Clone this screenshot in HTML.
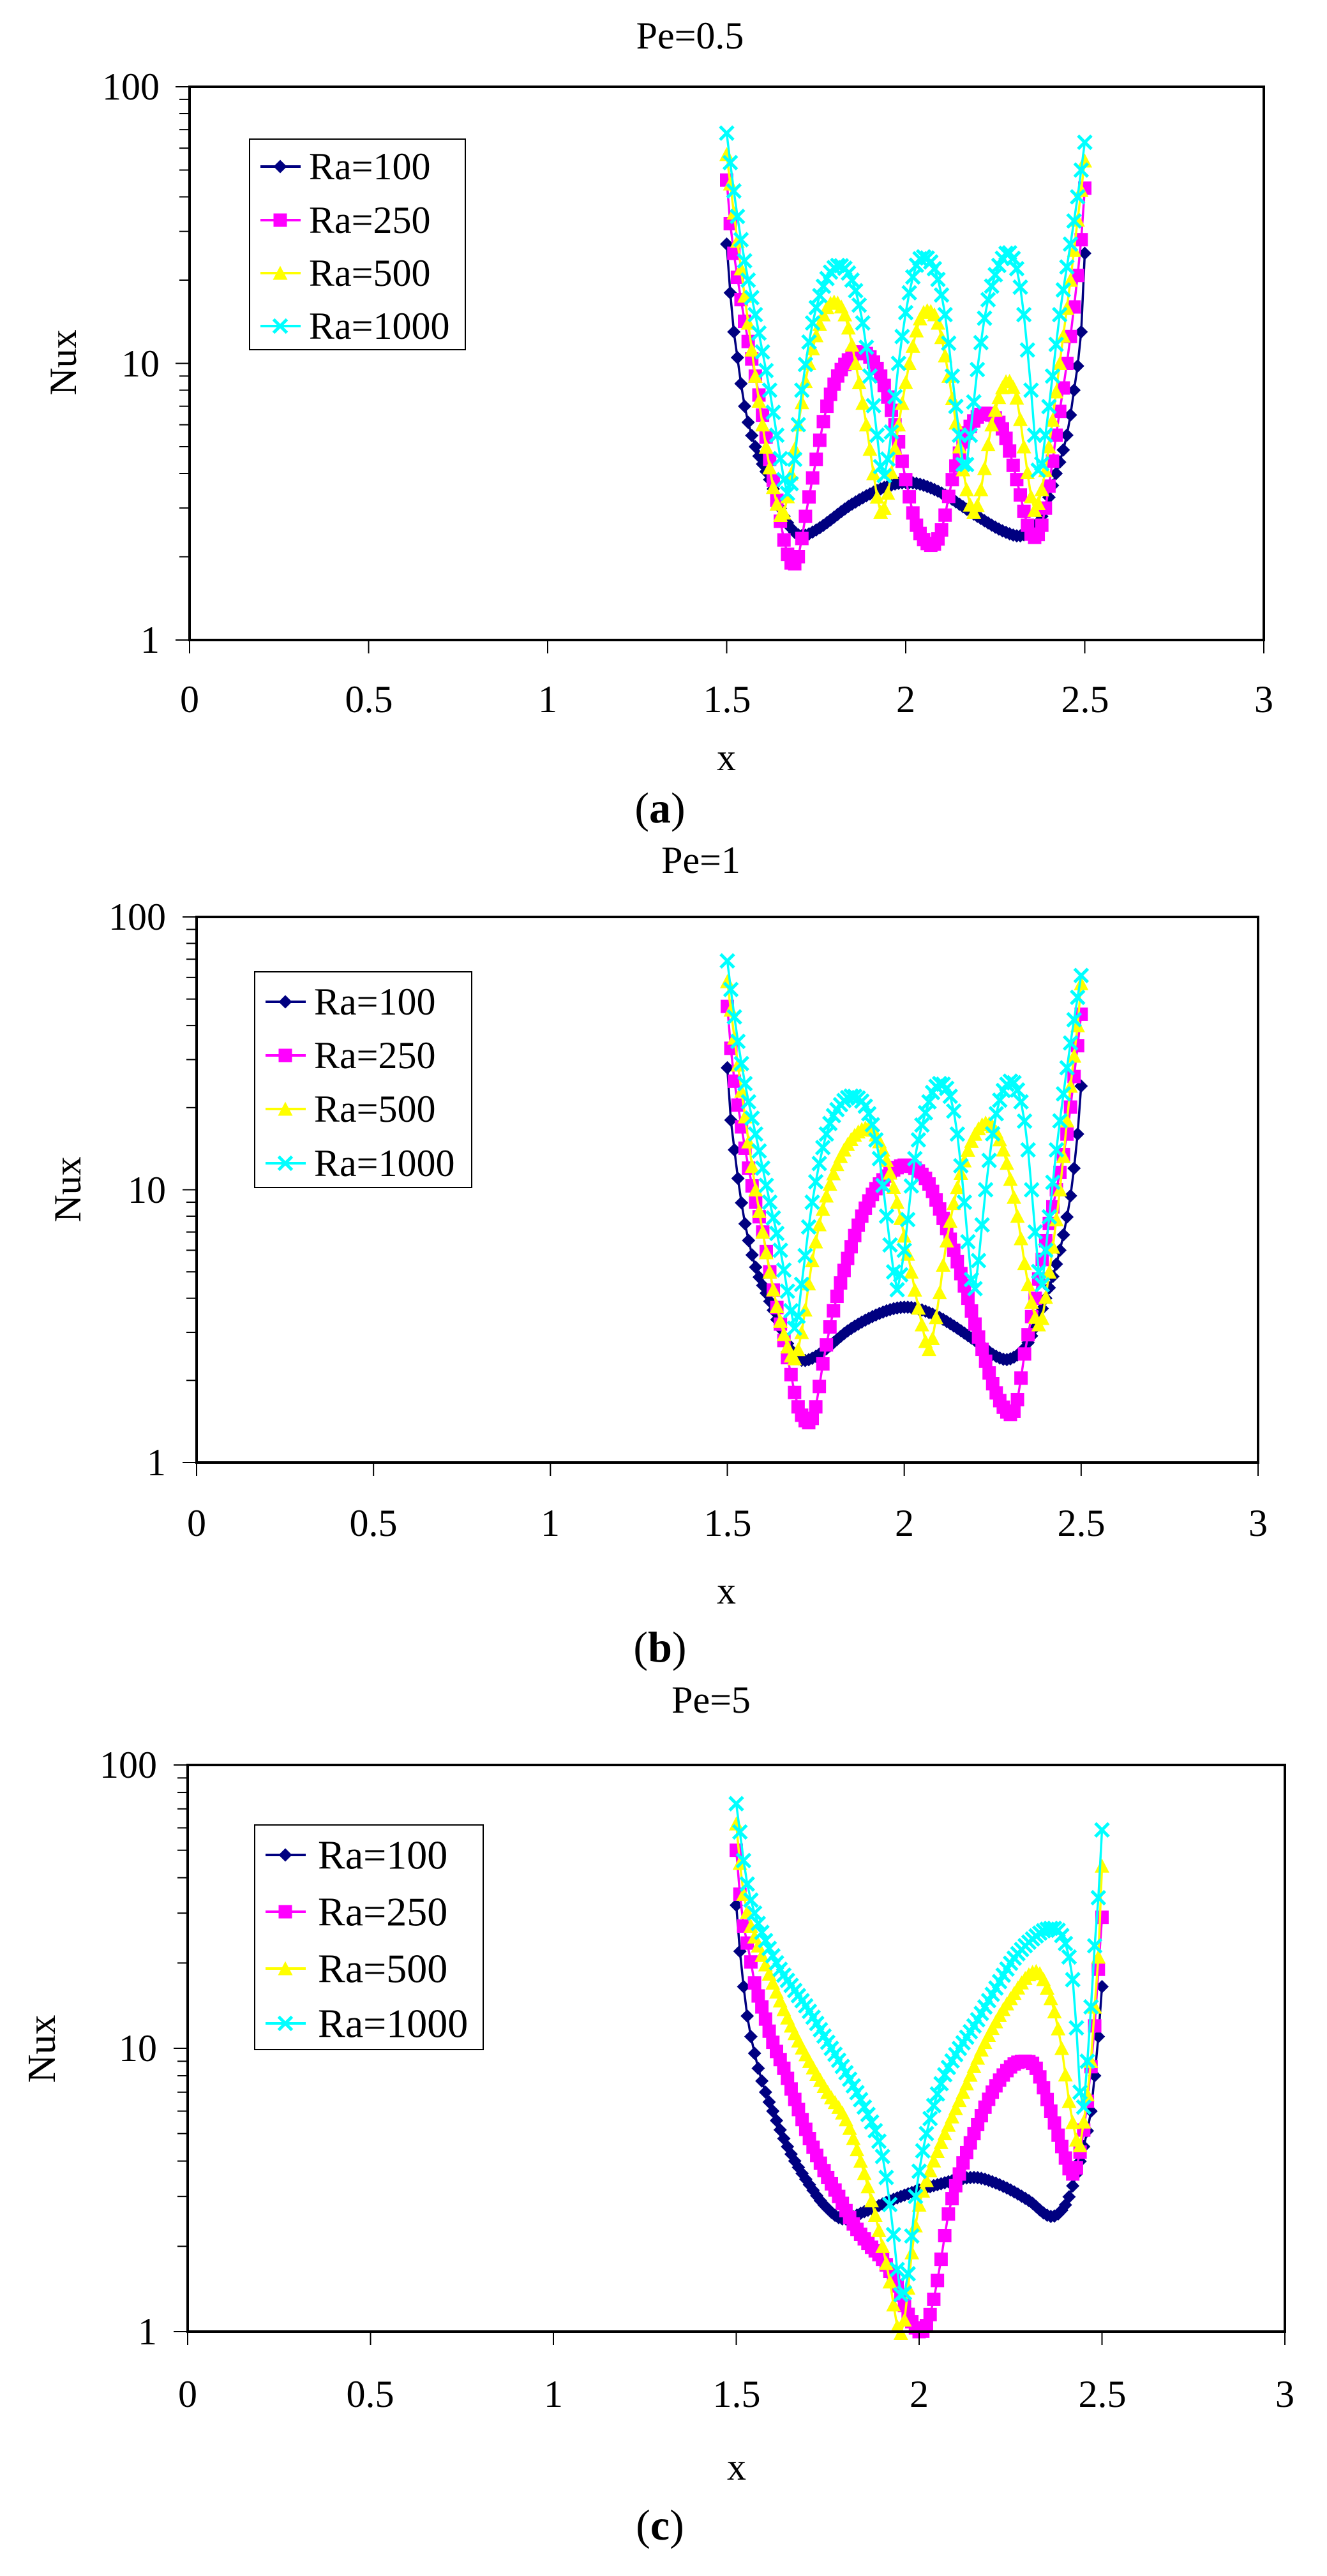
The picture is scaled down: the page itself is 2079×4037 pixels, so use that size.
<!DOCTYPE html>
<html><head><meta charset="utf-8">
<style>
html,body{margin:0;padding:0;background:#fff;}
svg{display:block;}
svg text{font-family:"Liberation Serif","DejaVu Serif",serif !important;fill:#000;}
</style></head>
<body>
<svg id="s" width="2079" height="4037" viewBox="0 0 2079 4037" xmlns="http://www.w3.org/2000/svg" font-family="Liberation Serif, DejaVu Serif, serif">
<rect width="2079" height="4037" fill="#fff"/>
<text x="1081" y="56" font-size="60" text-anchor="middle" dominant-baseline="central">Pe=0.5</text>
<text x="1138" y="1187" font-size="60" text-anchor="middle" dominant-baseline="central">x</text>
<text x="1034" y="1266" font-size="68" text-anchor="middle" dominant-baseline="central">(<tspan font-weight="bold">a</tspan>)</text>
<text x="0" y="0" font-size="60" text-anchor="middle" dominant-baseline="central" transform="translate(99,568) rotate(-90)">Nux</text>
<text x="1098" y="1348" font-size="60" text-anchor="middle" dominant-baseline="central">Pe=1</text>
<text x="1138" y="2493" font-size="60" text-anchor="middle" dominant-baseline="central">x</text>
<text x="1034" y="2581" font-size="68" text-anchor="middle" dominant-baseline="central">(<tspan font-weight="bold">b</tspan>)</text>
<text x="0" y="0" font-size="60" text-anchor="middle" dominant-baseline="central" transform="translate(106,1864) rotate(-90)">Nux</text>
<text x="1114" y="2664" font-size="60" text-anchor="middle" dominant-baseline="central">Pe=5</text>
<text x="1154" y="3866" font-size="60" text-anchor="middle" dominant-baseline="central">x</text>
<text x="1034" y="3957" font-size="68" text-anchor="middle" dominant-baseline="central">(<tspan font-weight="bold">c</tspan>)</text>
<text x="0" y="0" font-size="62" text-anchor="middle" dominant-baseline="central" transform="translate(66,3211) rotate(-90)">Nux</text>
<g font-size="60" text-anchor="middle" dominant-baseline="central">
<text x="297" y="1096">0</text><text x="578" y="1096">0.5</text><text x="858" y="1096">1</text><text x="1139" y="1096">1.5</text><text x="1419" y="1096">2</text><text x="1700" y="1096">2.5</text><text x="1980" y="1096">3</text>
<text x="308" y="2387">0</text><text x="585" y="2387">0.5</text><text x="862" y="2387">1</text><text x="1140" y="2387">1.5</text><text x="1417" y="2387">2</text><text x="1694" y="2387">2.5</text><text x="1971" y="2387">3</text>
<text x="294" y="3752">0</text><text x="580" y="3752">0.5</text><text x="867" y="3752">1</text><text x="1154" y="3752">1.5</text><text x="1440" y="3752">2</text><text x="1727" y="3752">2.5</text><text x="2013" y="3752">3</text>
</g>
<g font-size="60" text-anchor="end" dominant-baseline="central">
<text x="250" y="136">100</text><text x="250" y="570">10</text><text x="250" y="1003">1</text>
<text x="260" y="1437">100</text><text x="260" y="1865">10</text><text x="260" y="2292">1</text>
<text x="246" y="2766">100</text><text x="246" y="3210">10</text><text x="246" y="3654">1</text>
</g>
<g font-size="60" dominant-baseline="central">
<text x="484" y="261">Ra=100</text><text x="484" y="345">Ra=250</text><text x="484" y="428">Ra=500</text><text x="484" y="511">Ra=1000</text>
<text x="492" y="1570">Ra=100</text><text x="492" y="1654">Ra=250</text><text x="492" y="1738">Ra=500</text><text x="492" y="1823">Ra=1000</text>
<text x="498" y="2907" font-size="64">Ra=100</text><text x="498" y="2996" font-size="64">Ra=250</text><text x="498" y="3085" font-size="64">Ra=500</text><text x="498" y="3171" font-size="64">Ra=1000</text>
</g>
<g id="dyn"></g>
</svg>
<script>
var NS="http://www.w3.org/2000/svg";
var dyn=document.getElementById("dyn");
var COL=["#000080","#FF00FF","#FFFF00","#00FFFF"];
function el(t,a){var e=document.createElementNS(NS,t);for(var k in a)e.setAttribute(k,a[k]);dyn.appendChild(e);return e;}
function marker(i,x,y){
  var s=10.5;
  if(i==0) el("polygon",{points:(x)+","+(y-s)+" "+(x+s)+","+y+" "+x+","+(y+s)+" "+(x-s)+","+y,fill:COL[0]});
  else if(i==1) el("rect",{x:x-s,y:y-s,width:2*s,height:2*s,fill:COL[1]});
  else if(i==2) el("polygon",{points:x+","+(y-s-1)+" "+(x+s+1)+","+(y+s)+" "+(x-s-1)+","+(y+s),fill:COL[2]});
  else el("path",{d:"M"+(x-s)+" "+(y-s)+"L"+(x+s)+" "+(y+s)+"M"+(x+s)+" "+(y-s)+"L"+(x-s)+" "+(y+s),stroke:COL[3],"stroke-width":5,fill:"none"});
}
function interp(nodes,x){
  for(var i=0;i<nodes.length-1;i++){
    var a=nodes[i],b=nodes[i+1];
    if(x>=a[0]-1e-9&&x<=b[0]+1e-9){
      var t=(x-a[0])/(b[0]-a[0]);
      var p0=nodes[Math.max(0,i-1)],p3=nodes[Math.min(nodes.length-1,i+2)];
      var y1=Math.log10(a[1]),y2=Math.log10(b[1]);
      var m1=(y2-Math.log10(p0[1]))/(b[0]-p0[0]||1)*(b[0]-a[0]);
      var m2=(Math.log10(p3[1])-y1)/(p3[0]-a[0]||1)*(b[0]-a[0]);
      if(i==0)m1=y2-y1; if(i+2>nodes.length-1)m2=y2-y1;
      var t2=t*t,t3=t2*t;
      var v=(2*t3-3*t2+1)*y1+(t3-2*t2+t)*m1+(-2*t3+3*t2)*y2+(t3-t2)*m2;
      var lo=Math.min(y1,y2),hi=Math.max(y1,y2);
      v=Math.max(lo-0.06,Math.min(hi+0.06,v));
      return Math.pow(10,v);
    }
  }
  return nodes[nodes.length-1][1];
}
function plot(P){
  var L=P.L,R=P.R,T=P.T,B=P.B;
  var X=function(x){return L+(R-L)*x/3;};
  var Y=function(v){return B-(B-T)*Math.log10(v)/2;};
  for(var si=0;si<4;si++){
    var nodes=P.d[si],pts=[];
    for(var k=0;k<=100;k++){var x=1.5+k*0.01;var v=interp(nodes,x);pts.push([X(x),Y(v)]);}
    el("polyline",{points:pts.map(function(p){return p[0].toFixed(1)+","+p[1].toFixed(1);}).join(" "),fill:"none",stroke:COL[si],"stroke-width":3.5});
    pts.forEach(function(p){marker(si,p[0],p[1]);});
  }
  el("rect",{x:L,y:T,width:R-L,height:B-T,fill:"none",stroke:"#000","stroke-width":4});
  for(var d=0;d<2;d++)for(var m=1;m<10;m++){
    var v=Math.pow(10,d)*m;var y=Y(v);
    el("line",{x1:L-(m==1?22:16),x2:L,y1:y,y2:y,stroke:"#000","stroke-width":2});
  }
  el("line",{x1:L-22,x2:L,y1:T,y2:T,stroke:"#000","stroke-width":2});
  for(var i=0;i<=6;i++){var x=X(i*0.5);el("line",{x1:x,x2:x,y1:B,y2:B+21,stroke:"#000","stroke-width":2});}
  var g=P.g;
  el("rect",{x:g[0],y:g[1],width:g[2]-g[0],height:g[3]-g[1],fill:"none",stroke:"#000","stroke-width":2});
  for(var si=0;si<4;si++){
    var yy=P.e[si];
    el("line",{x1:g[0]+17,x2:g[0]+80,y1:yy,y2:yy,stroke:COL[si],"stroke-width":4});
    marker(si,g[0]+48,yy);
  }
}
var A=[
[[1.5,27],[1.51,18],[1.52,13],[1.53,10.5],[1.55,7],[1.58,5],[1.62,3.8],[1.66,2.8],[1.7,2.4],[1.75,2.5],[1.85,3.1],[1.95,3.6],[2.02,3.7],[2.1,3.4],[2.2,2.8],[2.28,2.45],[2.33,2.4],[2.38,2.8],[2.42,4],[2.45,5.5],[2.47,8],[2.49,13],[2.5,25]],
[[1.5,46],[1.51,32],[1.52,25],[1.54,17],[1.56,12],[1.58,9],[1.6,6.5],[1.62,4.5],[1.64,3.2],[1.66,2.3],[1.68,1.9],[1.7,2.0],[1.72,2.8],[1.75,4.5],[1.78,7],[1.82,9.5],[1.88,11],[1.93,9],[1.97,6],[2.0,3.8],[2.03,2.6],[2.07,2.2],[2.1,2.5],[2.13,3.8],[2.17,5.6],[2.22,6.6],[2.27,5.8],[2.31,3.8],[2.34,2.6],[2.36,2.35],[2.38,2.6],[2.4,3.6],[2.42,5.5],[2.45,10],[2.47,16],[2.49,28],[2.5,43]],
[[1.5,57],[1.52,35],[1.54,22],[1.56,14],[1.58,9],[1.6,6],[1.62,4.2],[1.64,3.1],[1.655,2.8],[1.67,3.3],[1.7,6],[1.73,10],[1.77,15],[1.8,16.7],[1.83,15],[1.86,10],[1.89,6],[1.91,4],[1.93,2.9],[1.95,3.4],[1.98,6],[2.01,10],[2.04,14.5],[2.065,15.5],[2.09,14],[2.12,9],[2.15,5],[2.17,3.5],[2.19,2.9],[2.21,3.5],[2.24,6],[2.28,8.6],[2.31,7.5],[2.33,5],[2.35,3.3],[2.36,2.95],[2.38,3.5],[2.4,5],[2.43,10],[2.46,20],[2.48,33],[2.5,54]],
[[1.5,68],[1.52,42],[1.54,28],[1.56,20],[1.58,15],[1.6,11],[1.62,8],[1.64,5.5],[1.66,3.8],[1.673,3.4],[1.69,4.5],[1.71,8],[1.74,14],[1.77,19],[1.81,22.6],[1.85,20],[1.88,14],[1.9,9],[1.92,5.5],[1.936,3.9],[1.955,5],[1.98,10],[2.01,18],[2.04,23.9],[2.08,22],[2.11,15],[2.13,9],[2.15,5.5],[2.165,4.1],[2.18,5.5],[2.2,9.5],[2.23,17],[2.28,25],[2.31,22],[2.33,15],[2.35,8],[2.36,5.5],[2.373,4],[2.39,5.5],[2.41,9],[2.43,15],[2.46,27],[2.48,40],[2.5,63]]];
var Bd=[
[[1.5,28],[1.51,18],[1.52,14],[1.53,11],[1.55,7.5],[1.58,5.2],[1.62,3.9],[1.66,2.9],[1.7,2.4],[1.75,2.45],[1.85,3.1],[1.95,3.6],[2.02,3.7],[2.1,3.4],[2.2,2.8],[2.26,2.45],[2.3,2.4],[2.35,2.75],[2.4,4],[2.44,6],[2.47,9.5],[2.49,16],[2.5,24]],
[[1.5,47],[1.51,33],[1.52,25],[1.54,17],[1.56,12],[1.58,9],[1.6,7],[1.62,5],[1.64,3.7],[1.66,2.8],[1.68,2.1],[1.7,1.6],[1.73,1.4],[1.75,1.6],[1.77,2.3],[1.8,3.6],[1.84,5.6],[1.88,8],[1.93,10.5],[2.0,12.3],[2.06,11],[2.1,8.5],[2.14,6],[2.18,4],[2.22,2.6],[2.26,1.8],[2.3,1.5],[2.32,1.7],[2.34,2.5],[2.37,4],[2.4,6.5],[2.43,10],[2.46,16],[2.48,26],[2.5,44]],
[[1.5,58],[1.52,36],[1.54,23],[1.56,15],[1.58,10],[1.6,7],[1.62,5],[1.65,3.3],[1.687,2.4],[1.71,3],[1.74,5.5],[1.78,9.5],[1.83,14],[1.897,16.9],[1.94,14],[1.98,9],[2.02,5],[2.05,3.2],[2.07,2.6],[2.09,3.4],[2.12,6.5],[2.16,11.5],[2.2,16],[2.24,17.5],[2.28,14],[2.32,8],[2.35,4.5],[2.383,3.2],[2.41,5],[2.44,10],[2.47,24],[2.49,40],[2.5,57]],
[[1.5,69],[1.52,43],[1.54,29],[1.56,21],[1.58,16],[1.6,12],[1.62,9],[1.65,6],[1.68,3.6],[1.694,3.1],[1.71,4.5],[1.74,9],[1.78,16],[1.82,20.5],[1.86,22],[1.9,19],[1.93,13],[1.95,8],[1.97,5],[1.98,4.3],[2.0,6],[2.03,13],[2.07,21],[2.1,24.5],[2.13,22],[2.15,16],[2.17,9],[2.185,5.5],[2.196,4.2],[2.21,5.5],[2.23,10],[2.26,19],[2.3,25],[2.33,21],[2.35,14],[2.37,7],[2.387,4.4],[2.4,6],[2.43,14],[2.46,28],[2.48,42],[2.5,61]]];
var C=[
[[1.5,32],[1.51,22],[1.52,16.5],[1.53,13],[1.54,11],[1.56,8.5],[1.58,7],[1.6,6],[1.63,4.8],[1.66,4],[1.7,3.3],[1.74,2.8],[1.79,2.5],[1.85,2.65],[1.95,3],[2.05,3.3],[2.15,3.5],[2.22,3.3],[2.3,2.9],[2.36,2.55],[2.4,2.8],[2.43,3.6],[2.45,4.5],[2.47,6],[2.48,8],[2.49,11],[2.5,16.5]],
[[1.5,50],[1.51,35],[1.52,27],[1.535,22],[1.55,17],[1.57,14],[1.6,10.5],[1.63,8.5],[1.66,6.6],[1.7,4.8],[1.74,3.7],[1.78,3.0],[1.82,2.4],[1.86,2.05],[1.9,1.8],[1.94,1.45],[1.97,1.15],[2.0,1.0],[2.02,1.05],[2.04,1.3],[2.06,1.8],[2.08,2.6],[2.11,3.6],[2.15,5],[2.2,7],[2.25,8.6],[2.29,9],[2.32,8.5],[2.36,6],[2.39,4.5],[2.42,3.6],[2.44,4.3],[2.46,6.5],[2.48,12],[2.49,19],[2.5,29]],
[[1.5,62],[1.51,45],[1.52,35],[1.54,27],[1.56,23],[1.6,17],[1.65,12],[1.7,9],[1.75,7],[1.8,5.6],[1.84,4],[1.87,2.9],[1.9,2],[1.92,1.5],[1.944,1.0],[1.96,1.1],[1.98,1.9],[2.0,2.8],[2.03,3.7],[2.07,5],[2.12,7],[2.18,10.5],[2.25,15],[2.32,18.7],[2.36,15],[2.39,10],[2.41,6.5],[2.437,4.5],[2.45,5.5],[2.47,9],[2.48,14],[2.49,21],[2.5,44]],
[[1.5,73],[1.51,58],[1.52,46],[1.53,38],[1.55,30],[1.58,24],[1.62,19],[1.66,16],[1.7,13.5],[1.75,10.5],[1.8,8.2],[1.85,6.2],[1.89,4.7],[1.91,3.5],[1.93,2.2],[1.95,1.35],[1.97,1.6],[1.99,3],[2.02,5],[2.06,7.5],[2.1,9.5],[2.15,12],[2.2,15.5],[2.26,20.8],[2.33,25.5],[2.37,26.5],[2.39,25],[2.41,21],[2.425,15],[2.44,7],[2.45,6.2],[2.46,9],[2.47,14],[2.48,23],[2.49,34],[2.5,59]]];
plot({L:297,R:1980,T:136,B:1003,d:A,g:[391,218,729,548],e:[261,345,428,511]});
plot({L:308,R:1971,T:1437,B:2292,d:Bd,g:[399,1523,739,1861],e:[1570,1654,1738,1823]});
plot({L:294,R:2013,T:2766,B:3654,d:C,g:[399,2860,757,3212],e:[2907,2996,3085,3171]});
</script>
</body></html>
